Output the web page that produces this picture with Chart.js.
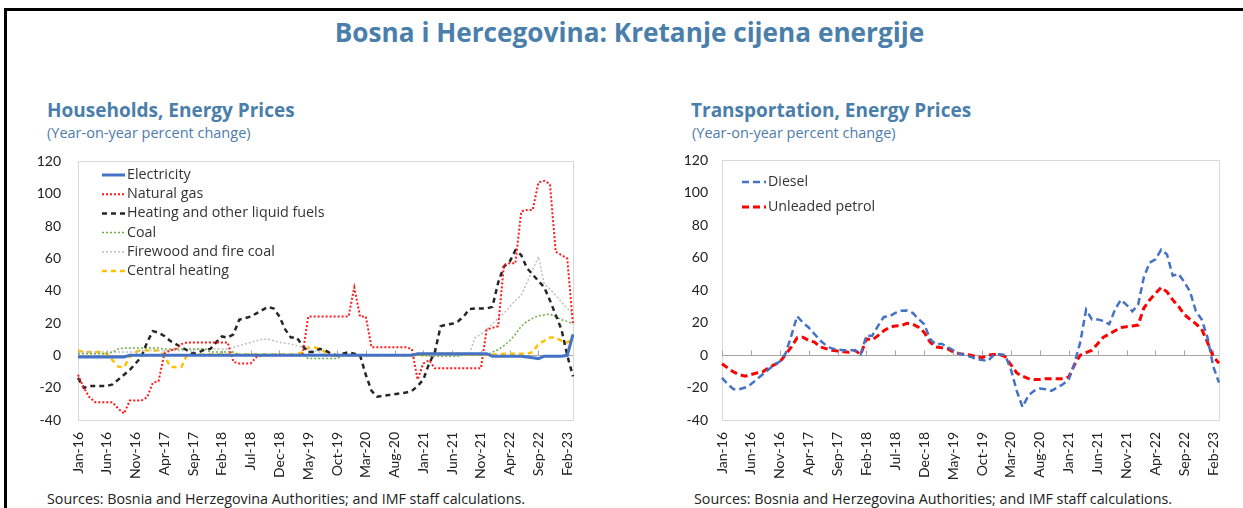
<!DOCTYPE html>
<html><head><meta charset="utf-8">
<script src="https://cdn.jsdelivr.net/npm/chart.js@4.4.1/dist/chart.umd.min.js"></script>
<style>
body{margin:0;background:#fff;width:1243px;height:508px;overflow:hidden;position:relative;font-family:"Open Sans","Noto Sans",sans-serif}
.frame{position:absolute;left:4px;top:8px;width:1300px;height:600px;border-top:3px solid #000;border-left:3px solid #000;box-sizing:border-box}
.title{position:absolute;top:14px;left:8px;width:1243px;text-align:center;font-weight:bold;font-size:26.2px;color:#4a7eab;white-space:nowrap}
.sub{position:absolute;font-weight:bold;font-size:19px;color:#4a7eab;white-space:nowrap}
.unit{position:absolute;font-size:14.5px;color:#4f7caa;white-space:nowrap}
.src{position:absolute;font-size:14.3px;color:#222;white-space:nowrap}
canvas{position:absolute}
</style></head>
<body>
<div class="frame"></div>
<div class="title" id="title">Bosna i Hercegovina: Kretanje cijena energije</div>
<div class="sub" style="left:47px;top:97px">Households, Energy Prices</div>
<div class="unit" style="left:47px;top:123px">(Year-on-year percent change)</div>
<div class="sub" style="left:691px;top:97px">Transportation, Energy Prices</div>
<div class="unit" style="left:692px;top:123px">(Year-on-year percent change)</div>
<div class="src" style="left:47px;top:489px">Sources: Bosnia and Herzegovina Authorities; and IMF staff calculations.</div>
<div class="src" style="left:694px;top:489px">Sources: Bosnia and Herzegovina Authorities; and IMF staff calculations.</div>
<canvas id="c1" width="600" height="354" style="left:0;top:136px"></canvas>
<canvas id="c2" width="603" height="352" style="left:640px;top:138px"></canvas>
<script>
// Categories: Jan-16 ... Mar-23 (monthly)
const monthNames = ['Jan','Feb','Mar','Apr','May','Jun','Jul','Aug','Sep','Oct','Nov','Dec'];
const categories = [];
for (let y = 16; y <= 23; y++) for (let m = 0; m < 12; m++) { if (y === 23 && m > 2) break; categories.push(monthNames[m] + '-' + y); }
const tickEvery = 5; // labels shown: Jan-16, Jun-16, ..., Feb-23

const yTicks = [-40, -20, 0, 20, 40, 60, 80, 100, 120];

// Households, energy prices (y/y %)
const electricity = [-1,-1,-1,-1,-1,-1,-1,-1,-1,0, 0,0,0,0,0,0,0,0,0,0, 0,0,0,0,0,0,0,0,0,0, 0,0,0,0,0,0,0,0,0,0, 0,0,0,0,0,0,0,0,0,0, 0,0,0,0,0,0,0,0,0,1, 1,1,1,1,1,1,1,1,1,1, 1,1,-0.5,-0.5,-0.5,-0.5,-0.5,-0.5,-1,-1.5, -2,-0.5,-0.5,-0.5,-0.5,0,13];
const naturalGas = [-12,-20,-26,-29,-29,-29,-29,-33,-36,-28, -28,-28,-26,-17,-16,1,3,4,7,8, 8,8,8,8,8,8,8,-4,-5,-5, -5,-1,0,0,0,0,0,0,0,0, 24,24,24,24,24,24,24,24,42,24, 24,5,5,5,5,5,5,5,4,-15, -5,-3,-8,-8,-8,-8,-8,-8,-8,-8, -8,16,17,18,56,57,57,89,90,90, 107,108,106,64,62,60,19];
const heatingFuels = [-14,-20,-19,-19,-19,-19,-18,-15,-12,-9, -5,-1,8,15,14,12,9,7,5,3, 1,2,3.5,4,8,11.7,11,13,22,23, 24,26,28,30,29,24,16,11,11,6, 2,2,4,3,1,0,1,2,1,0, -12,-22,-25.6,-25,-24.6,-24,-23.6,-23,-22,-19, -15,-5,2,18,19,19.5,21,24,28.7,29, 29,29,30,45,55,58,65,62,54,50, 46,42,34,25,16,0,-13];
const coal = [1,1,1,1,1,1,2,4,4.5,4.5, 4.5,4.5,4.5,4.5,4.5,4,4,4,4,4, 4,4,4,2,2,2,2,2,0.5,0.5, 0.5,0.5,0.5,0.5,0.5,0.5,0.5,0.5,0.5,0.5, -2,-2,-2,-2,-2,-2,0,0,0,0, 0,0,0,0,0,0,0,0,0,0, 0,-0.5,-0.5,-0.5,-0.5,-0.5,-0.5,0.5,0.5,0.5, 0.5,0.5,2,3.5,6,9,13,18,21,23, 24.5,25,25.5,24,22,21,19.5];
const firewood = [2,2,2,2,2,2,2,2,2,2, 2,3,3,3,3,3,3,3,3,3, 3,4,4,4,4,4,4,5,6,7, 8,9,10,10,9,8,7.5,7,6,5, 4,3,2,0,0,0,0,0,0,0, 0,0,0,0,0,0,0,0,0,0, 0,0,0,0,0,0,0,0,1,11, 13,16,19.5,23,26,30,34,37,45,53, 61,44,41,37,33,29,26];
const centralHeating = [3,2,2,2,2,1,-3,-7,-7.4,-1, 2,3.5,3,3,3,0,-7,-7.4,-7,1, 0.5,0.5,0.5,0.5,0.5,0.5,0.5,0.5,0.5,0.5, 0.5,0.5,0.5,0.5,0.5,0.5,0.5,0.5,0.5,2, 4.7,5,4,2,0,0,0,0,0,0, 0,0,0,0,0,0,0,0,0,0, 0,1,1,1,1,1,1,0.5,0.5,0.5, 0.5,0.5,0.5,0.5,1,1,1,1,1,2, 7,9,11,11,9,8,10];

// Transportation, energy prices (y/y %)
const diesel = [-14,-18,-21,-21,-20,-18,-15,-12,-9,-6, -4,1,12,24,20,17,13,9,6,4, 3.5,3,3,3,0.5,12,12,18,23.5,24, 26,27.4,27.5,26,22.3,19,10,6.5,7,5, 3,1,0,-1,-2.5,-3,-3.7,0,0.5,0, -9,-22,-32,-25,-22,-20.6,-21,-22,-20,-18, -15,-5,8,28,22,22,21,19,28,34, 31,27,31,48,57,59,65,62,49,50, 45,39,27,22,11,-7,-17];
const petrol = [-5.3,-8,-10.4,-12,-13,-12,-11,-10.4,-8,-6, -4.3,0.4,5,10.7,11,9,8,5,4,3, 2.5,2,1.8,2.9,0.4,10,9.4,12,15,17.2, 18,18.2,19.6,19,17.2,14,8,5,4.5,3.9, 2,0.9,0.5,0,-1,-1.6,0,0.4,0.4,-1, -6,-11,-13,-14.5,-15,-15,-14.5,-14.5,-14.5,-14.5, -13.5,-6,0,1.5,3,7,11,13,15,17, 17.5,18,18.5,29,34,38,41.7,39,34,30, 25,22,19.3,16,8,-1,-5];

const FONT = '"Open Sans", "Noto Sans", sans-serif';
const TICKFONT = 'Lato, "Noto Sans", sans-serif';

const framePlugin = {
  id: 'frameAndLegend',
  beforeDatasetsDraw(chart) {
    const {ctx, chartArea: a, scales} = chart;
    ctx.save();
    ctx.strokeStyle = '#d9d9d9'; ctx.lineWidth = 1;
    ctx.strokeRect(Math.round(a.left) + 0.5, Math.round(a.top) + 0.5, Math.round(a.right - a.left), Math.round(a.bottom - a.top));
    const y0 = Math.round(scales.y.getPixelForValue(0)) + 0.5;
    ctx.strokeStyle = '#a6a6a6';
    ctx.beginPath(); ctx.moveTo(a.left, y0); ctx.lineTo(a.right, y0); ctx.stroke();
    for (let i = 0; i < categories.length; i += tickEvery) {
      const x = Math.round(scales.x.getPixelForValue(i)) + 0.5;
      ctx.beginPath(); ctx.moveTo(x, y0); ctx.lineTo(x, y0 - 5); ctx.stroke();
    }
    ctx.restore();
  },
  afterDatasetsDraw(chart, args, opts) {
    const {ctx} = chart;
    ctx.save();
    ctx.font = opts.fontSize + 'px ' + FONT;
    ctx.textBaseline = 'middle';
    chart.data.datasets.forEach((ds, k) => {
      const y = opts.y0 + k * opts.dy;
      ctx.strokeStyle = ds.borderColor; ctx.lineWidth = ds.borderWidth;
      ctx.setLineDash(ds.borderDash || []);
      ctx.beginPath(); ctx.moveTo(opts.x0, y); ctx.lineTo(opts.x1, y); ctx.stroke();
      ctx.setLineDash([]);
      ctx.fillStyle = '#333';
      ctx.fillText(ds.label, opts.x1 + 2, y);
    });
    ctx.restore();
  }
};

function makeChart(id, datasets, yWidth, pad, tickPad, legendOpts) {
  return new Chart(document.getElementById(id), {
    type: 'line',
    data: { labels: categories, datasets },
    options: {
      responsive: false, animation: false, devicePixelRatio: 1,
      layout: { padding: pad },
      elements: { point: { radius: 0 }, line: { tension: 0, borderCapStyle: 'butt' } },
      plugins: { legend: { display: false }, tooltip: { enabled: false }, frameAndLegend: legendOpts },
      scales: {
        x: {
          type: 'category', offset: false,
          grid: { display: false }, border: { display: false },
          ticks: {
            autoSkip: false, maxRotation: 90, minRotation: 90, padding: 4,
            color: '#222', font: { family: TICKFONT, size: 14 },
            callback: (v, i) => (i % tickEvery === 0 ? categories[i] : '')
          },
          afterFit: s => { s.height = 70; }
        },
        y: {
          min: -40, max: 120,
          grid: { display: false, drawTicks: false }, border: { display: false },
          afterBuildTicks: s => { s.ticks = yTicks.map(v => ({ value: v })); },
          ticks: { padding: tickPad, color: '#222', font: { family: TICKFONT, size: 14 } },
          afterFit: s => { s.width = yWidth; }
        }
      }
    },
    plugins: [framePlugin]
  });
}

makeChart('c1', [
  { label: 'Electricity', data: electricity, borderColor: '#4472c4', borderWidth: 3 },
  { label: 'Natural gas', data: naturalGas, borderColor: '#ff1a1a', borderWidth: 2, borderDash: [2, 2] },
  { label: 'Heating and other liquid fuels', data: heatingFuels, borderColor: '#262626', borderWidth: 2.5, borderDash: [5, 4] },
  { label: 'Coal', data: coal, borderColor: '#70ad47', borderWidth: 1.5, borderDash: [2, 2] },
  { label: 'Firewood and fire coal', data: firewood, borderColor: '#bfbfbf', borderWidth: 1.5, borderDash: [2, 2] },
  { label: 'Central heating', data: centralHeating, borderColor: '#ffc000', borderWidth: 2.5, borderDash: [5, 4] }
], 78, { left: 0, top: 10, right: 27, bottom: 0 }, 17,
  { x0: 102, x1: 125, y0: 39, dy: 19.2, fontSize: 14.3 });

makeChart('c2', [
  { label: 'Diesel', data: diesel, borderColor: '#4472c4', borderWidth: 2.5, borderDash: [7, 4] },
  { label: 'Unleaded petrol', data: petrol, borderColor: '#ff0000', borderWidth: 3, borderDash: [7, 4] }
], 82, { left: 0, top: 9, right: 24, bottom: 0 }, 14,
  { x0: 102, x1: 126, y0: 44, dy: 25, fontSize: 14.2 });
</script>
</body></html>
